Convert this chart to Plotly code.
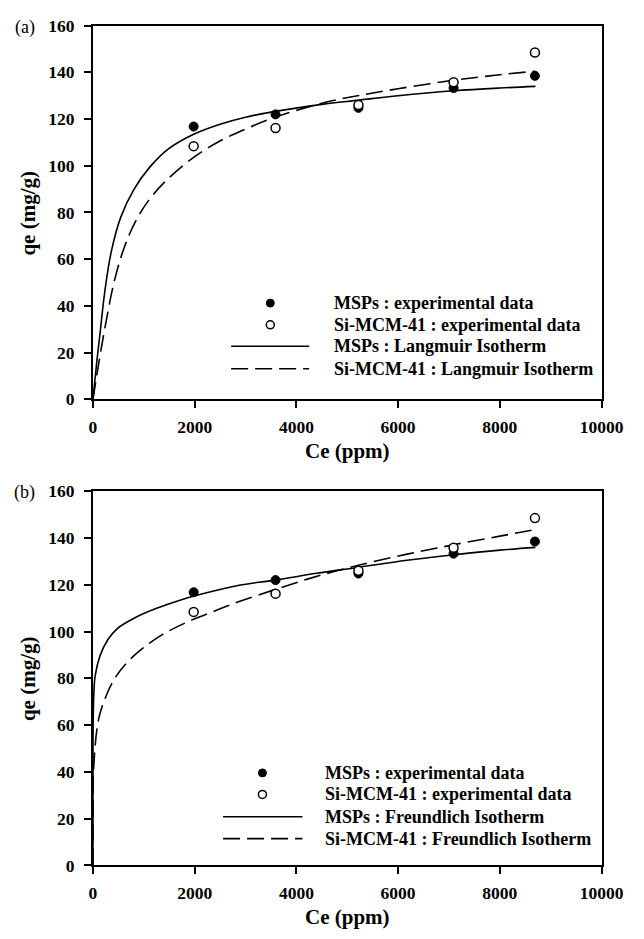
import plotly.graph_objects as go

W, H = 644, 939

# ---------------- data ----------------
ce_exp = [1980, 3590, 5220, 7090, 8690]
qe_msps = [116.8, 122.0, 124.8, 133.3, 138.5]
qe_si = [108.4, 116.2, 126.0, 135.8, 148.5]

# (a) Langmuir fitted curves
lang_msps_x = [0, 75, 138, 232, 358, 547, 798, 1113, 1490, 1980, 2500, 3000, 3585, 4500, 5230, 6000, 7087, 8000, 8700]
lang_msps_y = [0, 16, 28, 46, 63, 78.0, 89.6, 99.3, 107.3, 113.5, 117.8, 120.8, 123.3, 126.3, 128.1, 130.0, 132.1, 133.3, 134.0]
lang_si_x = [0, 138, 264, 421, 610, 830, 1113, 1490, 1993, 2496, 3030, 3585, 4200, 4700, 5230, 6000, 7087, 8000, 8700]
lang_si_y = [0, 18.6, 34, 50.7, 64.7, 75.9, 85.7, 94.7, 103.8, 110.6, 116.0, 120.8, 125.0, 127.8, 130.1, 133.0, 136.6, 139.0, 140.5]

# (b) Freundlich fitted curves
freu_msps_x = [0, 1, 5, 15, 43, 138, 295, 484, 798, 1238, 1742, 1990, 2496, 2874, 3585, 4400, 5170, 6175, 7087, 8000, 8700]
freu_msps_y = [0, 50, 62, 72, 81, 89.6, 96.6, 101.4, 105.6, 109.8, 113.6, 115.2, 118.0, 119.8, 122.0, 124.9, 127.3, 130.5, 132.8, 134.8, 136.0]
freu_si_x = [0, 2, 15, 106, 232, 421, 672, 987, 1364, 1868, 2370, 2874, 3585, 4200, 4792, 5500, 6200, 6742, 7087, 8000, 8700]
freu_si_y = [0, 25, 42, 62, 71, 79.7, 86.8, 93, 98.7, 104.2, 108.6, 112.8, 118.0, 122.3, 126.0, 129.8, 133.2, 135.6, 137.1, 140.8, 143.6]

x_ticks = [0, 2000, 4000, 6000, 8000, 10000]
x_tick_text = ["0", "2000", "4000", "6000", "8000", "10000"]
y_ticks = [0, 20, 40, 60, 80, 100, 120, 140, 160]
y_tick_text = ["0", "20", "40", "60", "80", "100", "120", "140", "160"]

legend_a = ["MSPs : experimental data", "Si-MCM-41 : experimental data",
            "MSPs : Langmuir Isotherm", "Si-MCM-41 : Langmuir Isotherm"]
legend_b = ["MSPs : experimental data", "Si-MCM-41 : experimental data",
            "MSPs : Freundlich Isotherm", "Si-MCM-41 : Freundlich Isotherm"]

FONT = "Liberation Serif, Times New Roman, serif"
DASH = "17px,7px"


def px(x):
    return x / W


def py(y):
    return 1 - y / H


def b(t):
    return "<b>" + t + "</b>"


fig = go.Figure()

panels = [
    dict(xa="x", ya="y", curves=(lang_msps_x, lang_msps_y, lang_si_x, lang_si_y)),
    dict(xa="x2", ya="y2", curves=(freu_msps_x, freu_msps_y, freu_si_x, freu_si_y)),
]

for p in panels:
    mx, my, sx, sy = p["curves"]
    fig.add_trace(go.Scatter(x=mx, y=my, mode="lines", xaxis=p["xa"], yaxis=p["ya"],
                             line=dict(color="black", width=1.6, shape="spline", smoothing=1),
                             showlegend=False, hoverinfo="skip"))
    fig.add_trace(go.Scatter(x=sx, y=sy, mode="lines", xaxis=p["xa"], yaxis=p["ya"],
                             line=dict(color="black", width=1.6, dash=DASH, shape="spline", smoothing=1),
                             showlegend=False, hoverinfo="skip"))
    fig.add_trace(go.Scatter(x=ce_exp, y=qe_msps, mode="markers", xaxis=p["xa"], yaxis=p["ya"],
                             marker=dict(symbol="circle", size=9, color="black",
                                         line=dict(color="black", width=1)),
                             showlegend=False))
    fig.add_trace(go.Scatter(x=ce_exp, y=qe_si, mode="markers", xaxis=p["xa"], yaxis=p["ya"],
                             marker=dict(symbol="circle", size=9, color="white",
                                         line=dict(color="black", width=1.5)),
                             showlegend=False))

x_dom = [px(92.7), px(622.7)]
ya_dom = [py(397.7), py(16)]
yb_dom = [py(874), py(491.7)]

tick_font = dict(family=FONT, size=17.5, color="black")
common_x = dict(range=[0, 10000], tickvals=x_ticks, ticktext=[b(t) for t in x_tick_text],
                showgrid=False, zeroline=False,
                showline=True, linewidth=2, linecolor="black", mirror=True,
                ticks="outside", ticklen=7, tickwidth=1.5, tickcolor="black",
                tickfont=tick_font, ticklabelstandoff=4, ticklabeloverflow="allow",
                domain=x_dom)
common_y = dict(range=[0, 160], tickvals=y_ticks, ticktext=[b(t) for t in y_tick_text],
                showgrid=False, zeroline=False,
                showline=True, linewidth=2, linecolor="black", mirror=True,
                ticks="outside", ticklen=7, tickwidth=1.5, tickcolor="black",
                tickfont=tick_font, ticklabelstandoff=6, ticklabeloverflow="allow")

fig.update_layout(
    width=W, height=H, margin=dict(l=0, r=0, t=0, b=0),
    paper_bgcolor="white", plot_bgcolor="white", showlegend=False,
    xaxis=dict(common_x, anchor="y"),
    yaxis=dict(common_y, domain=ya_dom, anchor="x"),
    xaxis2=dict(common_x, anchor="y2"),
    yaxis2=dict(common_y, domain=yb_dom, anchor="x2"),
)

ann = []
shapes = []
title_font = dict(family=FONT, size=21, color="black")

for lab, top, bot in [("(a)", 18.3, 397.7), ("(b)", 493.3, 874)]:
    ann.append(dict(text=lab, x=px(21.7), y=py(top), xref="paper", yref="paper",
                    showarrow=False, xanchor="center", yanchor="middle",
                    font=dict(family=FONT, size=18, color="black")))
    ann.append(dict(text=b("Ce (ppm)"), x=px(357.7), y=py(bot + 53), xref="paper", yref="paper",
                    showarrow=False, xanchor="center", yanchor="middle", font=title_font))
    ann.append(dict(text=b("qe (mg/g)"), x=px(25), y=py((top + bot) / 2 - 1), xref="paper", yref="paper",
                    showarrow=False, xanchor="center", yanchor="middle", textangle=-90, font=title_font))

leg_font = dict(family=FONT, size=18, color="black")
legends = [
    dict(labels=legend_a, rows=[299.5, 321.7, 343.5, 366.5], mark_x=277.5, l0=236.7, l1=318, tx=341.7),
    dict(labels=legend_b, rows=[779.5, 801.5, 824.3, 846.7], mark_x=269.3, l0=228.3, l1=311, tx=332.7),
]
for L in legends:
    for i, (label, ry) in enumerate(zip(L["labels"], L["rows"])):
        ann.append(dict(text=b(label), x=px(L["tx"]), y=py(ry), xref="paper", yref="paper",
                        showarrow=False, xanchor="left", yanchor="middle", font=leg_font))
        if i < 2:
            shapes.append(dict(type="circle", xref="paper", yref="paper",
                               xsizemode="pixel", ysizemode="pixel",
                               xanchor=px(L["mark_x"]), yanchor=py(ry),
                               x0=-4, x1=4, y0=-4, y1=4,
                               fillcolor="black" if i == 0 else "white",
                               line=dict(color="black", width=1 if i == 0 else 1.5)))
        else:
            shapes.append(dict(type="line", xref="paper", yref="paper",
                               x0=px(L["l0"]), x1=px(L["l1"]), y0=py(ry), y1=py(ry),
                               line=dict(color="black", width=1.6,
                                         dash="solid" if i == 2 else DASH)))

fig.update_layout(annotations=ann, shapes=shapes)
fig.write_html("out.html")
